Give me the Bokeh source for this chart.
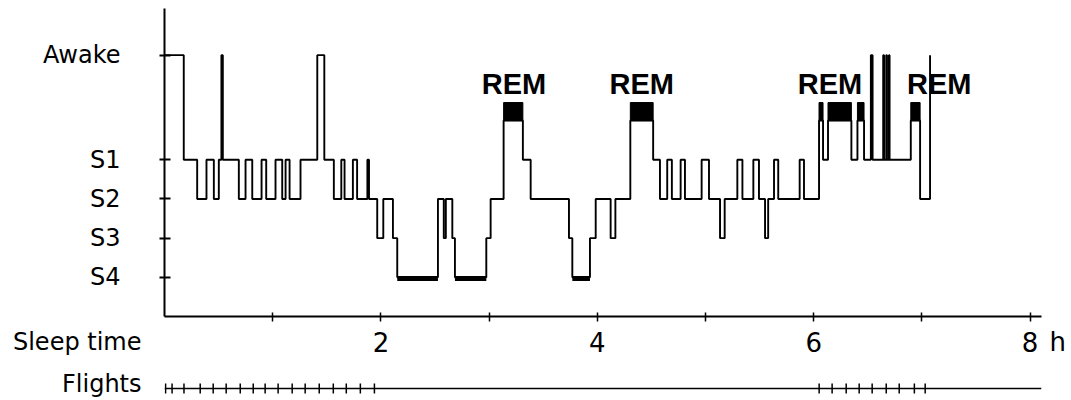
from bokeh.plotting import figure
from bokeh.models import FixedTicker, Range1d, LinearAxis
from bokeh.layouts import column
from bokeh.embed import file_html
from bokeh.resources import INLINE
from bokeh.core.properties import value

# ---------------- data ----------------
stage_names = ["S4", "S3", "S2", "S1", "REM", "W"]
stage_levels = [0, 1, 2, 3, 4, 5.67]
axis_stages = ["S4", "S3", "S2", "S1", "W"]
axis_stage_labels = ["S4", "S3", "S2", "S1", "Awake"]

hour_ticks = [1, 2, 3, 4, 5, 6, 7, 8]
hour_labels = ["", "2", "", "4", "", "6", "", "8"]
hour_unit = "h"

# hypnogram: time (h) at which each stage begins
times = [0.000, 0.178, 0.302, 0.388, 0.456, 0.502, 0.526, 0.539, 0.687, 0.749,
         0.811, 0.897, 0.940, 1.026, 1.088, 1.119, 1.156, 1.257, 1.412, 1.477,
         1.565, 1.634, 1.664, 1.741, 1.780, 1.875, 1.890, 1.966, 2.022, 2.111,
         2.151, 2.527, 2.581, 2.600, 2.660, 2.684, 2.974, 3.014, 3.134, 3.312,
         3.384, 3.738, 3.769, 3.932, 3.985, 4.123, 4.167, 4.305, 4.516, 4.579,
         4.646, 4.689, 4.770, 4.810, 4.964, 5.032, 5.134, 5.177, 5.294, 5.341,
         5.442, 5.494, 5.550, 5.579, 5.633, 5.672, 5.870, 5.910, 6.049, 6.086,
         6.132, 6.348, 6.404, 6.465, 6.528, 6.544, 6.642, 6.650, 6.670, 6.677,
         6.695, 6.701, 6.897, 6.983, 7.075]
stages = ["W", "S1", "S2", "S1", "S2", "S1", "W", "S1", "S2", "S1",
          "S2", "S1", "S2", "S1", "S2", "S1", "S2", "S1", "W", "S1",
          "S2", "S1", "S2", "S1", "S2", "S1", "S2", "S3", "S2", "S3",
          "S4", "S2", "S3", "S2", "S3", "S4", "S3", "S2", "REM", "S1",
          "S2", "S3", "S4", "S3", "S2", "S3", "S2", "REM", "S1", "S2",
          "S1", "S2", "S1", "S2", "S1", "S2", "S3", "S2", "S1", "S2",
          "S1", "S2", "S3", "S2", "S1", "S2", "S1", "S2", "REM", "S1",
          "REM", "S1", "REM", "S1", "W", "S1", "W", "S1", "W", "S1",
          "W", "S1", "REM", "S2", "W"]
assert len(times) == len(stages)

rem_label_hours = [3.23, 4.41, 6.15, 7.16]
rem_label_texts = ["REM", "REM", "REM", "REM"]

flight_hours = [0.01, 0.07, 0.18, 0.33, 0.45, 0.57, 0.70, 0.82, 0.93, 1.05,
                1.18, 1.30, 1.43, 1.56, 1.68, 1.81, 1.94,
                6.05, 6.17, 6.30, 6.42, 6.54, 6.67, 6.79, 6.93, 7.03]

# ---------------- derived ----------------
level = dict(zip(stage_names, stage_levels))
ys = [level[s] for s in stages]

def spans_of(name):
    out0, out1 = [], []
    for i in range(len(stages) - 1):
        if stages[i] == name:
            out0.append(times[i])
            out1.append(times[i + 1])
    return out0, out1

rem_x0, rem_x1 = spans_of("REM")
s4_x0, s4_x1 = spans_of("S4")

FONT = "DejaVu Sans"
W = 1068
LEFT = 164
FRAME_W = 877
RIGHT = W - LEFT - FRAME_W
X_END = 8.105

# ---------------- main figure ----------------
p = figure(width=W, height=324, x_range=(0, X_END), y_range=(-1.0, 6.86),
           output_backend="svg", toolbar_location=None,
           min_border_left=LEFT, min_border_right=RIGHT,
           min_border_top=8, min_border_bottom=8)
p.outline_line_color = None
p.xgrid.grid_line_color = None
p.ygrid.grid_line_color = None
p.background_fill_color = "white"
p.border_fill_color = "white"

p.step(times, ys, mode="after", line_color="black", line_width=1.9)
p.quad(left=rem_x0, right=rem_x1, bottom=level["REM"], top=4.46,
       fill_color="black", line_color="black", line_width=1)
p.segment(x0=s4_x0, x1=s4_x1, y0=-0.03, y1=-0.03, line_color="black", line_width=5)

p.text(x=rem_label_hours, y=[4.93] * len(rem_label_hours), text=rem_label_texts,
       text_font=value("Liberation Sans"), text_font_style="bold",
       text_font_size="29px", text_align="center", text_baseline="middle",
       text_color="black")

xa = p.xaxis[0]
xa.ticker = FixedTicker(ticks=hour_ticks)
xa.major_label_overrides = {t: "" for t in hour_ticks}
xa.major_label_text_font_size = "1px"
xa.major_label_standoff = 0
xa.minor_tick_line_color = None
xa.axis_line_width = 2
xa.axis_line_color = "black"
xa.major_tick_in = 4
xa.major_tick_out = 5
xa.major_tick_line_width = 1.5
xa.major_tick_line_color = "black"

ya = p.yaxis[0]
ya.ticker = FixedTicker(ticks=[level[s] for s in axis_stages])
ya.major_label_overrides = {level[s]: l for s, l in zip(axis_stages, axis_stage_labels)}
ya.minor_tick_line_color = None
ya.axis_line_width = 2
ya.axis_line_color = "black"
ya.major_tick_in = 6
ya.major_tick_out = 5
ya.major_tick_line_width = 2
ya.major_tick_line_color = "black"
ya.major_label_text_font = FONT
ya.major_label_text_font_size = "24px"
ya.major_label_text_color = "black"
ya.major_label_standoff = 39

# ---------------- bottom strip: time labels + flights ----------------
H2 = 74
ROW_LABELS = 57        # vertical centre of the hour-label row
ROW_FLIGHTS = 10       # flights line
ROW_FLIGHTS_TEXT = 15  # vertical centre of the "Flights" label

p2 = figure(width=W, height=H2, x_range=p.x_range, y_range=Range1d(0, H2),
            output_backend="svg", toolbar_location=None,
            x_axis_location=None, y_axis_location="left",
            min_border_left=LEFT, min_border_right=RIGHT,
            min_border_top=0, min_border_bottom=0)
p2.outline_line_color = None
p2.xgrid.grid_line_color = None
p2.ygrid.grid_line_color = None
p2.background_fill_color = "white"
p2.border_fill_color = "white"

la = p2.yaxis[0]
la.ticker = FixedTicker(ticks=[ROW_LABELS, ROW_FLIGHTS_TEXT])
la.major_label_overrides = {ROW_LABELS: "Sleep time", ROW_FLIGHTS_TEXT: "Flights"}
la.axis_line_color = None
la.major_tick_line_color = None
la.minor_tick_line_color = None
la.major_tick_in = 0
la.major_tick_out = 0
la.major_label_standoff = 23
la.major_label_text_font = FONT
la.major_label_text_font_size = "24px"
la.major_label_text_color = "black"

ra = LinearAxis(ticker=FixedTicker(ticks=[ROW_LABELS]),
                major_label_overrides={ROW_LABELS: hour_unit})
ra.axis_line_color = None
ra.major_tick_line_color = None
ra.minor_tick_line_color = None
ra.major_tick_in = 0
ra.major_tick_out = 0
ra.major_label_standoff = 8
ra.major_label_text_font = FONT
ra.major_label_text_font_size = "26px"
ra.major_label_text_color = "black"
p2.add_layout(ra, "right")

lab_x = [t for t, l in zip(hour_ticks, hour_labels) if l]
lab_t = [l for l in hour_labels if l]
p2.text(x=lab_x, y=[ROW_LABELS] * len(lab_x), text=lab_t,
        text_font=value(FONT), text_font_size="26px", text_align="center",
        text_baseline="middle", text_color="black")

p2.segment(x0=[0], x1=[X_END], y0=[ROW_FLIGHTS], y1=[ROW_FLIGHTS],
           line_color="black", line_width=1.5)
p2.segment(x0=flight_hours, x1=flight_hours,
           y0=[ROW_FLIGHTS - 5] * len(flight_hours), y1=[ROW_FLIGHTS + 5] * len(flight_hours),
           line_color="black", line_width=1.5)

layout = column(p, p2)
open("out.html", "w").write(file_html(layout, INLINE))
